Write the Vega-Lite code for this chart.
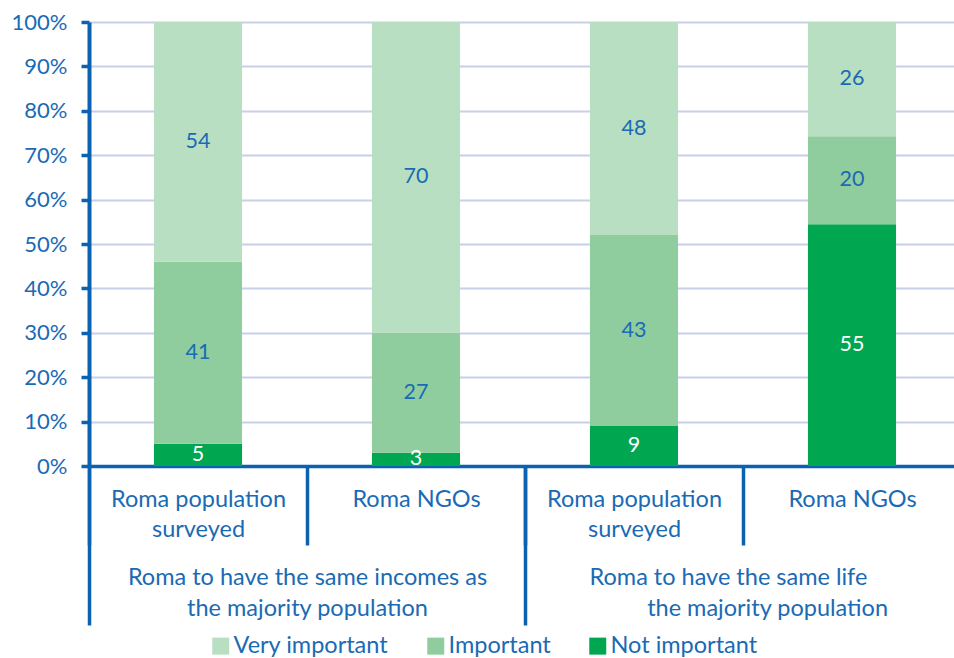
{
  "$schema": "https://vega.github.io/schema/vega-lite/v6.json",
  "width": 872,
  "height": 444,
  "autosize": "none",
  "padding": {"left": 89, "top": 22, "right": 0, "bottom": 192},
  "config": {
    "view": {"stroke": null},
    "font": "Lato",
    "text": {"font": "Lato"}
  },
  "resolve": {"scale": {"x": "independent"}, "axis": {"x": "independent"}},
  "layer": [
    {
      "data": {
        "values": [
          {"item": "A1", "group": "A", "category": "Not important", "order": 1, "value": 5},
          {"item": "A1", "group": "A", "category": "Important", "order": 2, "value": 41},
          {"item": "A1", "group": "A", "category": "Very important", "order": 3, "value": 54},
          {"item": "A2", "group": "A", "category": "Not important", "order": 1, "value": 3},
          {"item": "A2", "group": "A", "category": "Important", "order": 2, "value": 27},
          {"item": "A2", "group": "A", "category": "Very important", "order": 3, "value": 70},
          {"item": "B1", "group": "B", "category": "Not important", "order": 1, "value": 9},
          {"item": "B1", "group": "B", "category": "Important", "order": 2, "value": 43},
          {"item": "B1", "group": "B", "category": "Very important", "order": 3, "value": 48},
          {"item": "B2", "group": "B", "category": "Not important", "order": 1, "value": 55},
          {"item": "B2", "group": "B", "category": "Important", "order": 2, "value": 20},
          {"item": "B2", "group": "B", "category": "Very important", "order": 3, "value": 26}
        ]
      },
      "transform": [
        {"stack": "value", "groupby": ["item"], "sort": [{"field": "order"}], "offset": "normalize", "as": ["y0", "y1"]},
        {"calculate": "(datum.y0 + datum.y1) / 2", "as": "ymid"}
      ],
      "layer": [
        {
          "mark": {"type": "bar", "width": {"band": 0.404}},
          "encoding": {
            "x": {
              "field": "item",
              "type": "nominal",
              "sort": ["A1", "A2", "B1", "B2"],
              "scale": {"paddingInner": 0, "paddingOuter": 0},
              "axis": {
                "orient": "bottom",
                "title": null,
                "domainColor": "#0a62b0",
                "domainWidth": 3.5,
                "tickBand": "extent",
                "tickSize": 79,
                "tickWidth": 3.5,
                "tickColor": "#0a62b0",
                "labelAngle": 0,
                "labelFont": "Lato",
                "labelFontSize": 23.5,
                "labelColor": "#1a6ab4",
                "labelLineHeight": 30,
                "labelLimit": 400,
                "labelPadding": -58,
                "labelBaseline": "top",
                "labelExpr": "!isValid(datum.value) ? '' : (datum.value === 'A1' || datum.value === 'B1') ? ['Roma population', 'surveyed'] : ['Roma NGOs']"
              }
            },
            "y": {
              "field": "y0",
              "type": "quantitative",
              "scale": {"domain": [0, 1]},
              "axis": {
                "title": null,
                "values": [0, 0.1, 0.2, 0.3, 0.4, 0.5, 0.6, 0.7, 0.8, 0.9, 1],
                "format": ".0%",
                "domainColor": "#0a62b0",
                "domainWidth": 4,
                "tickColor": "#0a62b0",
                "tickSize": 8,
                "tickWidth": 3.5,
                "labelFont": "Lato",
                "labelFontSize": 22,
                "labelColor": "#1a6ab4",
                "labelPadding": 14,
                "grid": true,
                "gridColor": "#c8d0e8",
                "gridWidth": 2
              }
            },
            "y2": {"field": "y1"},
            "color": {
              "field": "category",
              "type": "nominal",
              "scale": {
                "domain": ["Very important", "Important", "Not important"],
                "range": ["#b9dfc2", "#8fcd9f", "#00a650"]
              },
              "legend": {
                "title": null,
                "orient": "none",
                "direction": "horizontal",
                "legendX": 120,
                "legendY": 612,
                "symbolType": "square",
                "symbolSize": 289,
                "symbolStrokeWidth": 0,
                "symbolOpacity": 1,
                "labelFont": "Lato",
                "labelFontSize": 23.5,
                "labelColor": "#1a6ab4",
                "labelOffset": 1,
                "labelLimit": 400,
                "columnPadding": 35
              }
            }
          }
        },
        {
          "mark": {"type": "text", "font": "Lato", "fontSize": 21.5, "baseline": "middle", "align": "center"},
          "encoding": {
            "x": {"field": "item", "type": "nominal", "sort": ["A1", "A2", "B1", "B2"]},
            "y": {"field": "ymid", "type": "quantitative", "scale": {"domain": [0, 1]}},
            "text": {"field": "value", "type": "quantitative"},
            "color": {
              "condition": {"test": "datum.category === 'Not important'", "value": "#ffffff"},
              "value": "#1a6ab4"
            }
          }
        }
      ]
    },
    {
      "data": {"values": [{"group": "A"}, {"group": "B"}]},
      "mark": {"type": "text", "text": ""},
      "encoding": {
        "x": {
          "field": "group",
          "type": "nominal",
          "scale": {"paddingInner": 0, "paddingOuter": 0},
          "axis": {
            "orient": "bottom",
            "title": null,
            "domain": false,
            "grid": false,
            "tickBand": "extent",
            "tickSize": 159,
            "tickWidth": 3.5,
            "tickColor": "#0a62b0",
            "labelAngle": 0,
            "labelFont": "Lato",
            "labelFontSize": 23.5,
            "labelColor": "#1a6ab4",
            "labelLineHeight": 31,
            "labelLimit": 600,
            "labelPadding": -60,
            "labelBaseline": "top",
            "labelExpr": "!isValid(datum.value) ? '' : datum.value === 'A' ? ['Roma to have the same incomes as', 'the majority population'] : ['Roma to have the same life\u00a0\u00a0\u00a0\u00a0\u00a0\u200b', '\u200b\u00a0\u00a0\u00a0\u00a0\u00a0\u00a0\u00a0\u00a0the majority population']"
          }
        }
      }
    }
  ]
}
